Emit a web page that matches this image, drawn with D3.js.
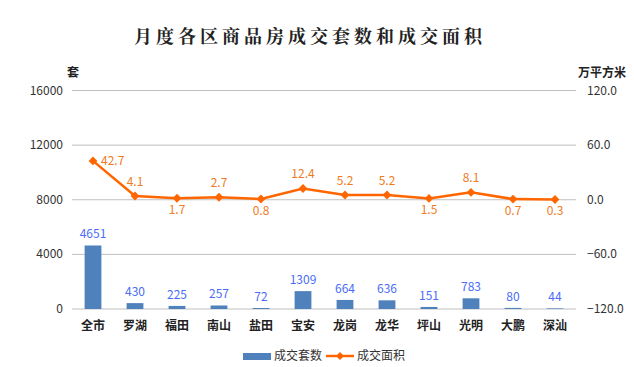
<!DOCTYPE html>
<html>
<head>
<meta charset="utf-8">
<script src="https://cdn.jsdelivr.net/npm/d3@7"></script>
<style>
  body { margin: 0; background: #fff; overflow: hidden; }
  svg { display: block; }
  text { font-family: "Microsoft YaHei", "Noto Sans CJK SC", sans-serif; }
</style>
</head>
<body>
<div id="chart"></div>
<script>
const districts = ['全市', '罗湖', '福田', '南山', '盐田', '宝安', '龙岗', '龙华', '坪山', '光明', '大鹏', '深汕']
const units = [4651, 430, 225, 257, 72, 1309, 664, 636, 151, 783, 80, 44]
const area = [42.7, 4.1, 1.7, 2.7, 0.8, 12.4, 5.2, 5.2, 1.5, 8.1, 0.7, 0.3]
// label above (true) or below (false) the point
const areaLabelUp = [null, true, false, true, false, true, true, true, false, true, false, false]
const leftTicks = [0, 4000, 8000, 12000, 16000]
const rightTicks = [-120, -60, 0, 60, 120]

const width = 634, height = 367
const margin = {top: 90.5, right: 58, bottom: 58, left: 72}

const barColor = '#4F81BD', lineColor = '#FF6600'
const barLabelColor = '#4A6CF7', lineLabelColor = '#F07A1E'

const svg = d3.select('#chart').append('svg')
  .attr('width', width)
  .attr('height', height)

svg.append('text')
  .attr('x', 310).attr('y', 43)
  .attr('text-anchor', 'middle')
  .attr('font-size', 18).attr('font-weight', 'bold')
  .attr('letter-spacing', 4)
  .style('font-family', '"Noto Serif CJK SC", "Noto Sans CJK SC", serif')
  .attr('fill', '#222')
  .text('月度各区商品房成交套数和成交面积')

svg.append('text').attr('x', 73).attr('y', 77).attr('text-anchor', 'middle')
  .attr('font-size', 12).attr('font-weight', 'bold').attr('fill', '#222').text('套')
svg.append('text').attr('x', 602).attr('y', 77).attr('text-anchor', 'middle')
  .attr('font-size', 12).attr('font-weight', 'bold').attr('fill', '#222').text('万平方米')

// scales in page coordinates
const x = d3.scaleBand().domain(districts)
  .range([margin.left, width - margin.right]).paddingInner(0.6).paddingOuter(0.3)
const yL = d3.scaleLinear().domain([0, 16000]).range([height - margin.bottom, margin.top])
const yR = d3.scaleLinear().domain([-120, 120]).range([height - margin.bottom, margin.top])
const cx = i => x(districts[i]) + x.bandwidth() / 2

// grid
svg.selectAll('.grid').data(leftTicks).enter().append('line')
  .attr('class', 'grid')
  .attr('x1', margin.left).attr('x2', width - margin.right)
  .attr('y1', d => yL(d)).attr('y2', d => yL(d))
  .attr('stroke', '#C0C0C0').attr('stroke-width', 1)

// left axis labels
svg.selectAll('.ltick').data(leftTicks).enter().append('text')
  .attr('x', margin.left - 9).attr('y', d => yL(d) + 4)
  .attr('text-anchor', 'end').attr('font-size', 12).attr('fill', '#333')
  .text(d => d)

// right axis labels
svg.selectAll('.rtick').data(rightTicks).enter().append('text')
  .attr('x', width - margin.right + 11).attr('y', d => yR(d) + 4)
  .attr('text-anchor', 'start').attr('font-size', 12).attr('fill', '#333')
  .text(d => d3.format('.1f')(d))

// category labels
svg.selectAll('.cat').data(districts).enter().append('text')
  .attr('x', (d, i) => cx(i)).attr('y', height - margin.bottom + 21)
  .attr('text-anchor', 'middle').attr('font-size', 12).attr('font-weight', 'bold').attr('fill', '#222')
  .text(d => d)

// bars
svg.selectAll('.bar').data(units).enter().append('rect')
  .attr('x', (d, i) => x(districts[i]))
  .attr('y', d => yL(d))
  .attr('width', x.bandwidth())
  .attr('height', d => yL(0) - yL(d))
  .attr('fill', barColor)

svg.selectAll('.barlabel').data(units).enter().append('text')
  .attr('x', (d, i) => cx(i))
  .attr('y', d => yL(d) - 7)
  .attr('text-anchor', 'middle').attr('font-size', 12).attr('fill', barLabelColor)
  .text(d => d)

// line
const line = d3.line().x((d, i) => cx(i)).y(d => yR(d))
svg.append('path').datum(area)
  .attr('d', line).attr('fill', 'none')
  .attr('stroke', lineColor).attr('stroke-width', 2.5)

svg.selectAll('.marker').data(area).enter().append('path')
  .attr('d', d3.symbol().type(d3.symbolDiamond2).size(50))
  .attr('transform', (d, i) => `translate(${cx(i)},${yR(d)})`)
  .attr('fill', lineColor)

svg.selectAll('.linelabel').data(area).enter().append('text')
  .attr('x', (d, i) => i === 0 ? cx(i) + 8 : cx(i))
  .attr('y', (d, i) => i === 0 ? yR(d) + 4 : areaLabelUp[i] ? yR(d) - 10 : yR(d) + 16)
  .attr('text-anchor', (d, i) => i === 0 ? 'start' : 'middle')
  .attr('font-size', 12).attr('fill', lineLabelColor)
  .text(d => d3.format('.1f')(d))

// legend
const lg = svg.append('g').attr('transform', 'translate(243,356)')
lg.append('rect').attr('x', 0).attr('y', -3).attr('width', 28).attr('height', 7).attr('fill', barColor)
lg.append('text').attr('x', 31).attr('y', 4).attr('font-size', 12).attr('fill', '#333').text('成交套数')
lg.append('line').attr('x1', 83).attr('x2', 111).attr('y1', 0).attr('y2', 0)
  .attr('stroke', lineColor).attr('stroke-width', 2.5)
lg.append('path').attr('d', d3.symbol().type(d3.symbolDiamond2).size(40))
  .attr('transform', 'translate(97,0)').attr('fill', lineColor)
lg.append('text').attr('x', 114).attr('y', 4).attr('font-size', 12).attr('fill', '#333').text('成交面积')
</script>
</body>
</html>
